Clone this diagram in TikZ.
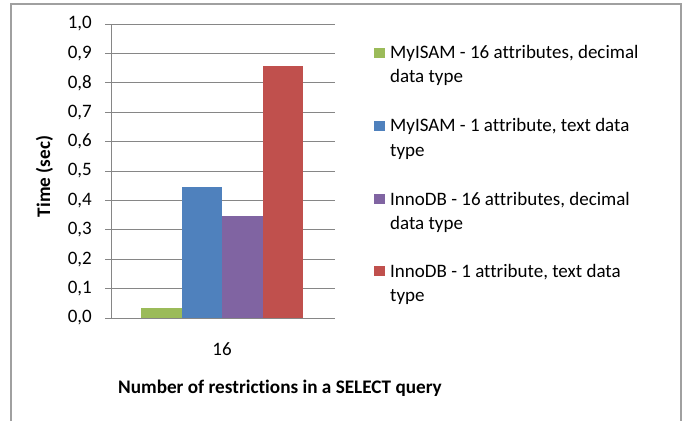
\documentclass[tikz,border=0pt]{standalone}
\usepackage{fontspec}
\setmainfont{Carlito}[Ligatures=NoCommon]
\usepackage{tikz}
\usetikzlibrary{calc}

\definecolor{frameGray}{HTML}{A0A0A0}
\definecolor{gridGray}{HTML}{868686}
\definecolor{barGreen}{HTML}{9BBB59}
\definecolor{barBlue}{HTML}{4F81BD}
\definecolor{barPurple}{HTML}{8064A2}
\definecolor{barRed}{HTML}{C0504D}

\begin{document}
\begin{tikzpicture}[
  x=1pt, y=1pt,
  grid/.style={draw=gridGray, line width=0.9pt},
  lbl/.style={
    inner sep=0pt,
    font=\fontsize{19}{22}\selectfont
  },
  title/.style={
    inner sep=0pt,
    font=\fontsize{19.2}{22}\selectfont\bfseries
  },
  legkey/.style={
    rectangle,
    inner sep=0pt,
    minimum width=11pt,
    minimum height=10pt
  }
]

\useasboundingbox (0,0) rectangle (687,421);

% --- Outer frame (open at the bottom) ---
\draw[frameGray, line width=1.2pt] (11,0) -- (11,417) -- (681,417) -- (681,0);

% --- Plot geometry ---
\pgfmathsetmacro{\yo}{103}   % y of value 0
\pgfmathsetmacro{\ys}{294}   % length of 1.0 on the value axis
\pgfmathsetmacro{\xa}{111}   % value axis x
\pgfmathsetmacro{\xe}{335}   % right end of grid

% --- Gridlines, ticks and value labels ---
\foreach \i in {0,...,10} {
  \draw[grid] (\xa-6, \yo+\i*\ys/10) -- (\xe, \yo+\i*\ys/10);
}
\foreach \i/\t in {0/{0,0},1/{0,1},2/{0,2},3/{0,3},4/{0,4},5/{0,5},
                   6/{0,6},7/{0,7},8/{0,8},9/{0,9},10/{1,0}} {
  \node[lbl, anchor=east] (v\i) at (92, \yo+\i*\ys/10) {\t};
}

% --- Value axis ---
\draw[grid] (\xa, \yo) -- (\xa, \yo+\ys);

% --- Bars ---
\fill[barGreen]  (141, \yo) rectangle (182, \yo+0.035*\ys);
\fill[barBlue]   (182, \yo) rectangle (222, \yo+0.446*\ys);
\fill[barPurple] (222, \yo) rectangle (263, \yo+0.347*\ys);
\fill[barRed]    (263, \yo) rectangle (303, \yo+0.857*\ys);

% --- Category and axis titles ---
\node[lbl, anchor=base] (cat) at (222, 66) {16};
\node[title, anchor=base west] (xt) at (118, 28)
  {Number of restrictions in a SELECT query};
\node[title, rotate=90, anchor=base] (yt) at (50, 244.5) {Time (sec)};

% --- Legend ---
\node[legkey, fill=barGreen]  (k1) at (379, 368) {};
\node[legkey, fill=barBlue]   (k2) at (379, 295) {};
\node[legkey, fill=barPurple] (k3) at (379, 222) {};
\node[legkey, fill=barRed]    (k4) at (379, 150) {};

\node[lbl, anchor=base west] (l1a) at (390, 362) {MyISAM - 16 attributes, decimal};
\node[lbl, anchor=base west] (l1b) at (390, 338) {data type};
\node[lbl, anchor=base west] (l2a) at (390, 289) {MyISAM - 1 attribute, text data};
\node[lbl, anchor=base west] (l2b) at (390, 265) {type};
\node[lbl, anchor=base west] (l3a) at (390, 216) {InnoDB - 16 attributes, decimal};
\node[lbl, anchor=base west] (l3b) at (390, 192) {data type};
\node[lbl, anchor=base west] (l4a) at (390, 144) {InnoDB - 1 attribute, text data};
\node[lbl, anchor=base west] (l4b) at (390, 120) {type};

\end{tikzpicture}
\end{document}
